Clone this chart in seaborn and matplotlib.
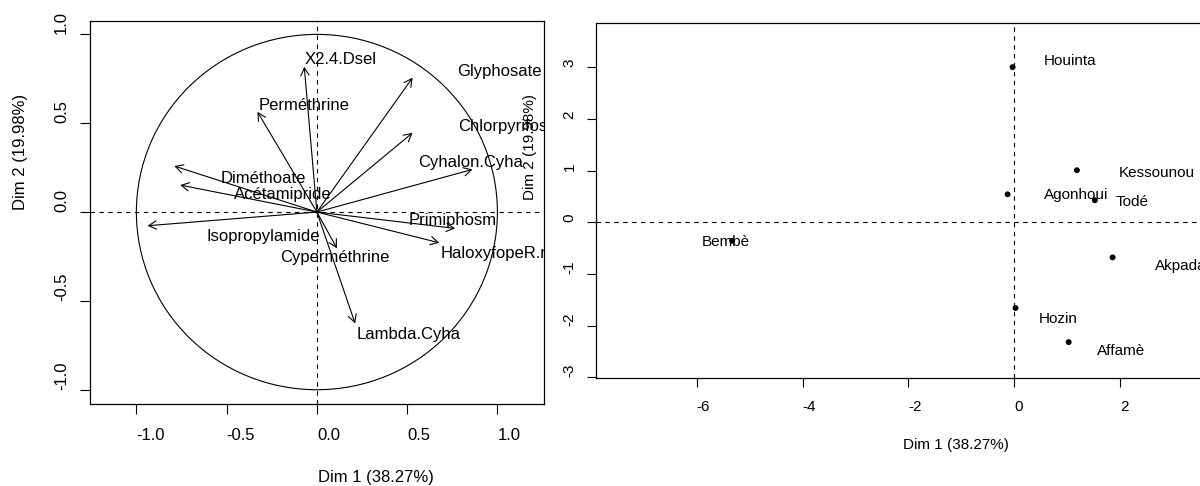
import matplotlib
matplotlib.use("Agg")
import matplotlib.pyplot as plt
from matplotlib.patches import Circle
import seaborn as sns
import pandas as pd

# ── data ──────────────────────────────────────────────────────────────────────
var_names = ["X2.4.Dsel", "Perméthrine", "Glyphosate", "Chlorpyrifos",
             "Cyhalon.Cyha", "Diméthoate", "Acétamipride", "Isopropylamide",
             "Cyperméthrine", "Lambda.Cyha", "Primiphosm", "HaloxyfopeR.m"]
var_dim1 = [-0.070, -0.329, 0.530, 0.530, 0.862, -0.790, -0.757, -0.938,
            0.111, 0.212, 0.766, 0.678]
var_dim2 = [0.818, 0.564, 0.756, 0.446, 0.240, 0.259, 0.152, -0.077,
            -0.204, -0.627, -0.092, -0.173]

ind_names = ["Houinta", "Kessounou", "Agonhoui", "Todé", "Akpadanou",
             "Hozin", "Affamè", "Bembè"]
ind_dim1 = [-0.03, 1.185, -0.125, 1.525, 1.86, 0.025, 1.03, -5.33]
ind_dim2 = [3.00, 1.006, 0.54, 0.425, -0.68, -1.66, -2.32, -0.36]

var_ticks = [-1.0, -0.5, 0.0, 0.5, 1.0]
var_ticklabels = ["-1.0", "-0.5", "0.0", "0.5", "1.0"]
ind_xticks = [-6, -4, -2, 0, 2]
ind_yticks = [-3, -2, -1, 0, 1, 2, 3]

xlab = "Dim 1 (38.27%)"
ylab = "Dim 2 (19.98%)"

# label anchors (left edge of text), as placed in the reference
var_lab_pos = [(-0.070, 0.859), (-0.323, 0.602), (0.776, 0.790), (0.785, 0.480),
               (0.563, 0.280), (-0.536, 0.190), (-0.458, 0.100), (-0.610, -0.135),
               (-0.203, -0.255), (0.218, -0.687), (0.508, -0.045), (0.683, -0.236)]
ind_lab_pos = [(0.55, 3.12), (1.985, 0.96), (0.56, 0.53), (1.91, 0.40),
               (2.665, -0.84), (0.47, -1.87), (1.57, -2.49), (-5.9, -0.39)]

sns.set_theme(style="white")
plt.rcParams["font.family"] = ["Liberation Sans", "DejaVu Sans"]
plt.rcParams["axes.unicode_minus"] = False

fig = plt.figure(figsize=(12, 4.86), dpi=100)
ax1 = fig.add_axes([0.075, 0.1681, 0.3783, 0.7893])
ax2 = fig.add_axes([0.4964, 0.2216, 0.5119, 0.7317])

for ax in (ax1, ax2):
    ax.set_facecolor("white")
    for sp in ax.spines.values():
        sp.set_color("black")
        sp.set_linewidth(0.9)
    ax.axhline(0, color="black", lw=0.8, ls=(0, (4, 4)), zorder=1)
    ax.axvline(0, color="black", lw=0.8, ls=(0, (4, 4)), zorder=1)

# ── variables: correlation circle ─────────────────────────────────────────────
ax1.add_patch(Circle((0, 0), 1, fill=False, ec="black", lw=0.8))
for name, x, y, (lx, ly) in zip(var_names, var_dim1, var_dim2, var_lab_pos):
    ax1.annotate("", xy=(x, y), xytext=(0, 0),
                 arrowprops=dict(arrowstyle="->,head_length=0.55,head_width=0.3",
                                 lw=0.8, color="black", shrinkA=0, shrinkB=0,
                                 mutation_scale=10))
    ax1.text(lx, ly, name, ha="left", va="center", fontsize=12,
             color="black", clip_on=True)

ax1.set_xlim(-1.257, 1.258)
ax1.set_ylim(-1.082, 1.077)
ax1.set_xticks(var_ticks, labels=var_ticklabels, ha="left")
ax1.set_yticks(var_ticks, labels=var_ticklabels, rotation=90,
               rotation_mode="anchor", ha="left", va="baseline")
ax1.tick_params(axis="x", bottom=True, length=7.2, width=0.8, color="black",
                labelsize=12, labelcolor="black", pad=9.8)
ax1.tick_params(axis="y", left=True, length=7.2, width=0.8, color="black",
                labelsize=12, labelcolor="black", pad=10)
ax1.set_xlabel(xlab, fontsize=12, color="black")
ax1.xaxis.set_label_coords(0.502, -0.192)
ax1.xaxis.label.set_ha("left")
ax1.xaxis.label.set_va("center")
ax1.set_ylabel(ylab, fontsize=12, color="black")
ax1.yaxis.set_label_coords(-0.153, 0.506)
ax1.yaxis.label.set_rotation_mode("anchor")
ax1.yaxis.label.set_ha("left")
ax1.yaxis.label.set_va("center")

# ── individuals ───────────────────────────────────────────────────────────────
ind_df = pd.DataFrame({"Dim1": ind_dim1, "Dim2": ind_dim2, "name": ind_names})
sns.scatterplot(data=ind_df, x="Dim1", y="Dim2", ax=ax2, color="black",
                s=18, edgecolor="none", zorder=3)
for name, (lx, ly) in zip(ind_names, ind_lab_pos):
    ax2.text(lx, ly, name, ha="left", va="center", fontsize=11,
             color="black", clip_on=True)

ax2.set_xlim(-7.91, 3.70)
ax2.set_ylim(-3.02, 3.86)
ax2.set_xticks(ind_xticks, labels=[str(v) for v in ind_xticks], ha="left")
ax2.set_yticks(ind_yticks, labels=[str(v) for v in ind_yticks], rotation=90,
               rotation_mode="anchor", ha="left", va="baseline")
ax2.tick_params(axis="x", bottom=True, length=6.5, width=0.8, color="black",
                labelsize=11, labelcolor="black", pad=8.9)
ax2.tick_params(axis="y", left=True, length=6.5, width=0.8, color="black",
                labelsize=11, labelcolor="black", pad=9.3)
ax2.set_xlabel(xlab, fontsize=11, color="black")
ax2.xaxis.set_label_coords(0.500, -0.188)
ax2.xaxis.label.set_ha("left")
ax2.xaxis.label.set_va("center")
ax2.set_ylabel(ylab, fontsize=11, color="black")
ax2.yaxis.set_label_coords(-0.107, 0.5)
ax2.yaxis.label.set_rotation_mode("anchor")
ax2.yaxis.label.set_ha("left")
ax2.yaxis.label.set_va("center")

fig.savefig("out.png", dpi=100, facecolor="white")
